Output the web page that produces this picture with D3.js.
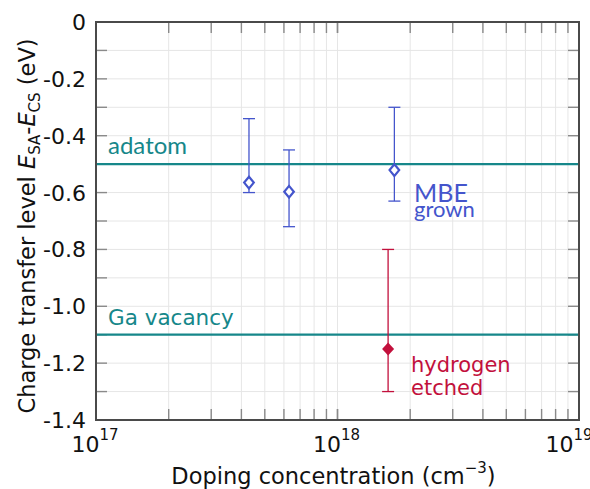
<!DOCTYPE html>
<html>
<head>
<meta charset="utf-8">
<script src="https://cdn.jsdelivr.net/npm/d3@7"></script>
<style>
  body { margin: 0; background: #fff; }
  text { font-family: "DejaVu Sans", sans-serif; }
</style>
</head>
<body>
<svg id="chart" width="590" height="489"></svg>
<script>
// MBE grown samples
const mbeDoping = [4.3e17, 6.3e17, 1.72e18];
const mbeLevel = [-0.565, -0.597, -0.521];
const mbeHigh = [-0.34, -0.45, -0.30];
const mbeLow = [-0.60, -0.72, -0.63];

// hydrogen etched sample
const hDoping = [1.62e18];
const hLevel = [-1.15];
const hHigh = [-0.80];
const hLow = [-1.30];

// reference levels
const refNames = ['adatom', 'Ga vacancy'];
const refLevels = [-0.5, -1.1];

const yTicks = [0, -0.2, -0.4, -0.6, -0.8, -1.0, -1.2, -1.4];
const xTicks = [1e17, 1e18, 1e19];

const teal = '#16878a';
const blue = '#4455cc';
const red = '#c2103c';

const svg = d3.select('#chart');
const margin = {top: 22, right: 11, bottom: 69, left: 96};
const width = +svg.attr('width');
const height = +svg.attr('height');
const innerWidth = width - margin.left - margin.right;
const innerHeight = height - margin.top - margin.bottom;

const xScale = d3.scaleLog().domain([1e17, 1e19]).range([0, innerWidth]);
const yScale = d3.scaleLinear().domain([-1.4, 0]).range([innerHeight, 0]);

const g = svg.append('g')
  .attr('transform', `translate(${margin.left},${margin.top})`);

// grid
const minorX = [];
for (let e = 17; e < 19; e++) for (let k = 1; k <= 10; k++) minorX.push(k * Math.pow(10, e));
const minorY = d3.range(0, 15).map(i => -i / 10);

g.append('g').selectAll('line').data(minorX).enter().append('line')
  .attr('x1', d => xScale(d)).attr('x2', d => xScale(d))
  .attr('y1', 0).attr('y2', innerHeight)
  .attr('stroke', '#e6e6e6').attr('stroke-width', 1);
g.append('g').selectAll('line').data(minorY).enter().append('line')
  .attr('y1', d => yScale(d)).attr('y2', d => yScale(d))
  .attr('x1', 0).attr('x2', innerWidth)
  .attr('stroke', '#e6e6e6').attr('stroke-width', 1);

// inward ticks on all four sides
const tickLen = 11;
const tx = g.append('g').attr('stroke', '#8a8a8a').attr('stroke-width', 1.4);
minorX.forEach(d => {
  tx.append('line').attr('x1', xScale(d)).attr('x2', xScale(d)).attr('y1', innerHeight).attr('y2', innerHeight - tickLen);
  tx.append('line').attr('x1', xScale(d)).attr('x2', xScale(d)).attr('y1', 0).attr('y2', tickLen);
});
minorY.forEach(d => {
  tx.append('line').attr('y1', yScale(d)).attr('y2', yScale(d)).attr('x1', 0).attr('x2', tickLen);
  tx.append('line').attr('y1', yScale(d)).attr('y2', yScale(d)).attr('x1', innerWidth).attr('x2', innerWidth - tickLen);
});

// reference lines
refLevels.forEach((v, i) => {
  g.append('line')
    .attr('x1', 0).attr('x2', innerWidth)
    .attr('y1', yScale(v)).attr('y2', yScale(v))
    .attr('stroke', teal).attr('stroke-width', 2.2);
  g.append('text')
    .attr('x', 12).attr('y', yScale(v) - 10)
    .attr('fill', teal).attr('font-size', i === 0 ? 24 : 21.5)
    .style('font-family', i === 0 ? 'Lato, sans-serif' : '"DejaVu Sans", sans-serif')
    .text(refNames[i]);
});

// error bars
function errorBars(xs, lo, hi, color) {
  const eb = g.append('g').attr('stroke', color).attr('stroke-width', 1.3);
  xs.forEach((x, i) => {
    const px = xScale(x);
    eb.append('line').attr('x1', px).attr('x2', px).attr('y1', yScale(hi[i])).attr('y2', yScale(lo[i]));
    eb.append('line').attr('x1', px - 6).attr('x2', px + 6).attr('y1', yScale(hi[i])).attr('y2', yScale(hi[i]));
    eb.append('line').attr('x1', px - 6).attr('x2', px + 6).attr('y1', yScale(lo[i])).attr('y2', yScale(lo[i]));
  });
}
errorBars(mbeDoping, mbeLow, mbeHigh, blue);
errorBars(hDoping, hLow, hHigh, red);

const diamond = (w, h) => `M0,${-h} L${w},0 L0,${h} L${-w},0 Z`;
g.append('g').selectAll('path').data(mbeDoping).enter().append('path')
  .attr('transform', (d, i) => `translate(${xScale(d)},${yScale(mbeLevel[i])})`)
  .attr('d', diamond(4.8, 5.8))
  .attr('fill', '#fff').attr('stroke', blue).attr('stroke-width', 2.2);
g.append('g').selectAll('path').data(hDoping).enter().append('path')
  .attr('transform', (d, i) => `translate(${xScale(d)},${yScale(hLevel[i])})`)
  .attr('d', diamond(6, 6.5))
  .attr('fill', red);

// frame
g.append('rect').attr('width', innerWidth).attr('height', innerHeight)
  .attr('fill', 'none').attr('stroke', '#4a4a4a').attr('stroke-width', 2);

// annotations
svg.append('text').attr('x', 414).attr('y', 202)
  .attr('fill', blue).attr('font-size', 25).style('font-family', 'Lato, sans-serif').text('MBE');
svg.append('text').attr('x', 414).attr('y', 217)
  .attr('fill', blue).attr('font-size', 22).style('font-family', 'Lato, sans-serif').text('grown');
svg.append('text').attr('x', 411).attr('y', 372)
  .attr('fill', red).attr('font-size', 21).text('hydrogen');
svg.append('text').attr('x', 411).attr('y', 395)
  .attr('fill', red).attr('font-size', 21).text('etched');

// y tick labels
g.append('g').selectAll('text').data(yTicks).enter().append('text')
  .attr('x', -10).attr('y', d => yScale(d) + 8)
  .attr('text-anchor', 'end').attr('font-size', 22).attr('fill', '#111')
  .text(d => d === 0 ? '0' : d3.format('.1f')(d).replace('−', '-'));

// x tick labels
const xl = g.append('g').selectAll('text').data(xTicks).enter().append('text')
  .attr('x', (d, i) => xScale(d) - (i === 2 ? 10 : 1)).attr('y', innerHeight + 32)
  .attr('text-anchor', 'middle').attr('font-size', 22).attr('fill', '#111');
xl.append('tspan').text('10');
xl.append('tspan').attr('dy', -12).attr('font-size', 15).text(d => Math.round(Math.log10(d)));

// axis titles
const xt = svg.append('text')
  .attr('x', margin.left + innerWidth / 2 - 4).attr('y', 484)
  .attr('text-anchor', 'middle').attr('font-size', 22.5).attr('fill', '#111');
xt.append('tspan').text('Doping concentration (cm');
xt.append('tspan').attr('dy', -11).attr('font-size', 15).text('\u22123');
xt.append('tspan').attr('dy', 11).text(')');

const yt = svg.append('text')
  .attr('transform', `translate(35,${margin.top + innerHeight / 2 + 5}) rotate(-90)`)
  .attr('text-anchor', 'middle').attr('font-size', 22.5).attr('fill', '#111');
yt.append('tspan').text('Charge transfer level ');
yt.append('tspan').attr('font-style', 'italic').text('E');
yt.append('tspan').attr('dy', 5).attr('font-size', 15).text('SA');
yt.append('tspan').attr('dy', -5).text('-');
yt.append('tspan').attr('font-style', 'italic').text('E');
yt.append('tspan').attr('dy', 5).attr('font-size', 15).text('CS');
yt.append('tspan').attr('dy', -5).text(' (eV)');
</script>
</body>
</html>
